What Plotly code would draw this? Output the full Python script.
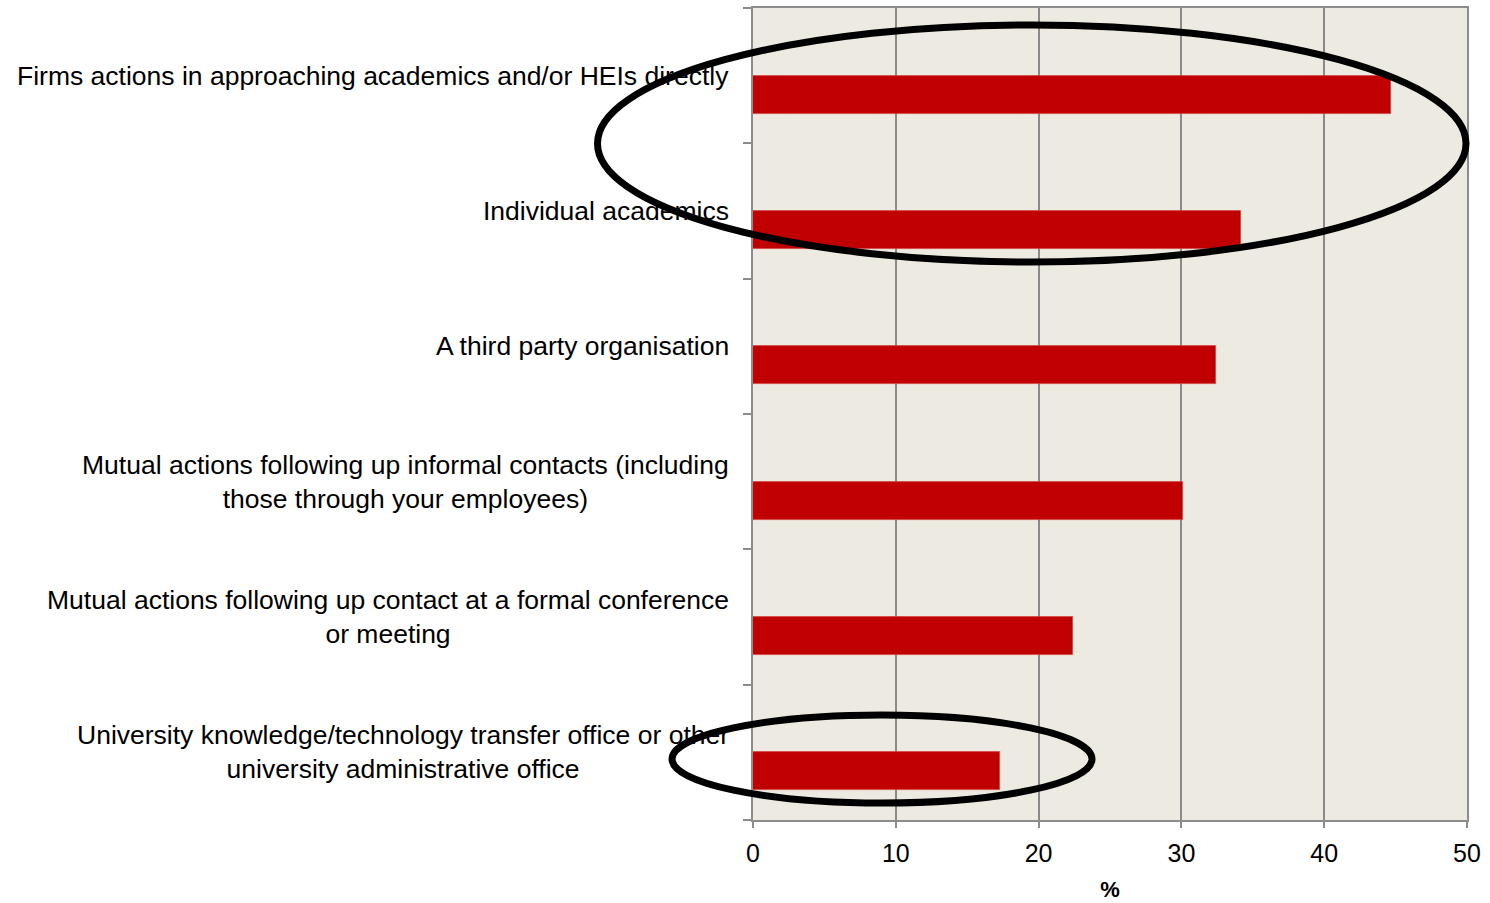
import plotly.graph_objects as go

# Sources of contact between firms and universities (% of firms)
categories = [
    "Firms actions in approaching academics and/or HEIs directly",
    "Individual academics",
    "A third party organisation",
    "Mutual actions following up informal contacts (including<br>those through your employees)",
    "Mutual actions following up contact at a formal conference<br>or meeting",
    "University knowledge/technology transfer office or other<br>university administrative office",
]
values = [44.7, 34.2, 32.4, 30.1, 22.4, 17.3]
x_ticks = [0, 10, 20, 30, 40, 50]

positions = list(range(len(categories)))
FONT = "Liberation Sans, Arial, sans-serif"
AXIS_GREY = "#8C8C8C"

fig = go.Figure(
    go.Bar(
        x=values,
        y=positions,
        orientation="h",
        width=0.28,
        offset=0,
        marker=dict(color="#C00000", line=dict(color="#D24545", width=0.8)),
        hoverinfo="x",
    )
)

# category labels, right-aligned block with centred lines
for pos, label in zip(positions, categories):
    fig.add_annotation(
        x=0, xref="paper", xshift=-22, xanchor="right",
        y=pos, yref="y", yanchor="middle",
        text=label, align="center", showarrow=False,
        font=dict(family=FONT, size=26.5, color="#000000"),
    )

# highlight ellipses
fig.add_shape(type="circle", xref="paper", yref="paper",
              x0=-0.2178, x1=0.9986, y0=0.6872, y1=0.9791,
              line=dict(color="#000000", width=7), layer="above")
fig.add_shape(type="circle", xref="paper", yref="paper",
              x0=-0.1134, x1=0.4748, y0=0.0209, y1=0.1293,
              line=dict(color="#000000", width=7), layer="above")

fig.update_layout(
    width=1490, height=903,
    margin=dict(l=753, r=23, t=8, b=83),
    paper_bgcolor="#FFFFFF",
    plot_bgcolor="#EDEBE1",
    showlegend=False,
    bargap=0,
    font=dict(family=FONT, size=25, color="#000000"),
    xaxis=dict(
        range=[0, 50],
        tickvals=x_ticks,
        automargin=False,
        ticks="outside", ticklen=6, tickwidth=2, tickcolor=AXIS_GREY,
        ticklabelstandoff=4,
        showgrid=True, gridcolor="#8A8A8A", gridwidth=1.5,
        showline=True, linecolor=AXIS_GREY, linewidth=2, mirror=True,
        zeroline=False,
        tickfont=dict(family=FONT, size=25),
        title=dict(text="<b>%</b>", font=dict(family=FONT, size=22), standoff=16),
    ),
    yaxis=dict(
        range=[5.5, -0.5],
        tickvals=[-0.5, 0.5, 1.5, 2.5, 3.5, 4.5, 5.5],
        automargin=False,
        ticks="outside", ticklen=8, tickwidth=2, tickcolor=AXIS_GREY,
        showticklabels=False,
        showgrid=False, zeroline=False,
        showline=True, linecolor=AXIS_GREY, linewidth=2, mirror=True,
    ),
)

fig.write_html("out.html")
